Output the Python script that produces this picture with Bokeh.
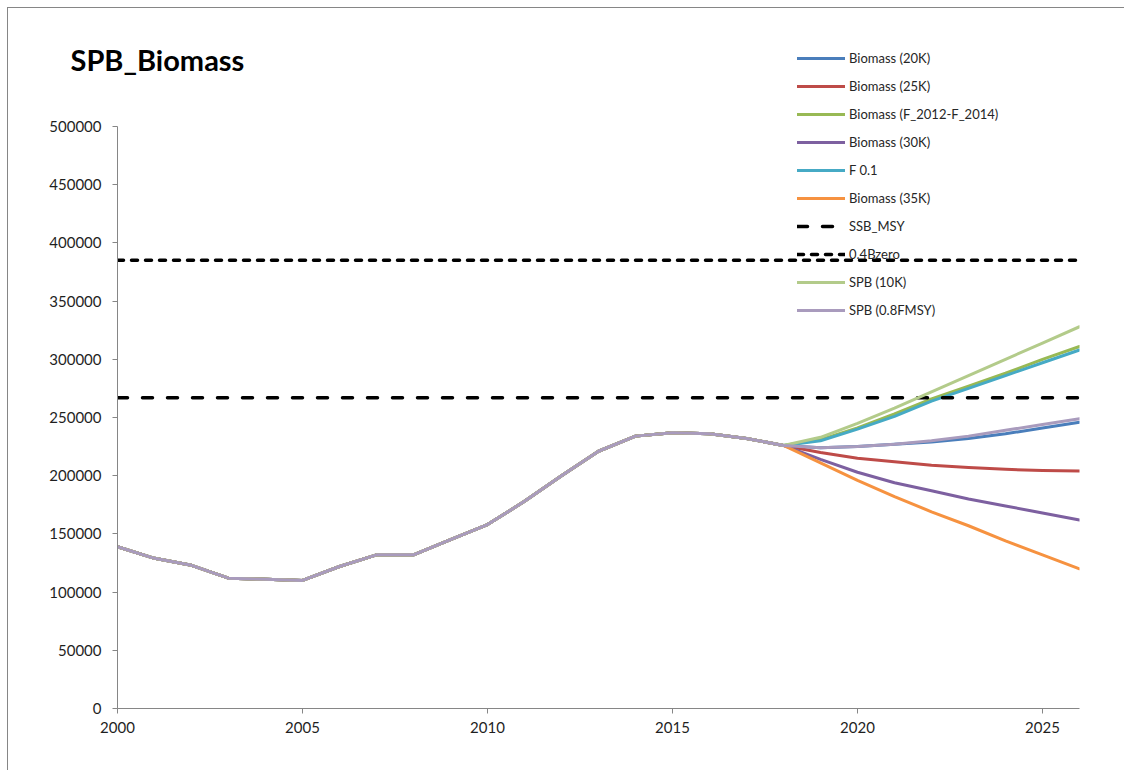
from bokeh.plotting import figure
from bokeh.models import Range1d, FixedTicker, BasicTickFormatter
from bokeh.embed import file_html
from bokeh.resources import INLINE

# ---- data ----
hist_years = list(range(2000, 2019))
history = [139000, 129000, 123000, 112000, 111000, 110000, 122000, 132000, 132000,
           145000, 158000, 178000, 200000, 221000, 234000, 237000, 236000, 232000, 226000]
proj_years = list(range(2019, 2027))

biomass_20k = [224000, 225000, 227000, 229000, 232000, 236000, 241000, 246000]
biomass_25k = [220000, 215000, 212000, 209000, 207000, 205500, 204500, 204000]
biomass_f2012_2014 = [231000, 241000, 253000, 266000, 277000, 288000, 300000, 311000]
biomass_30k = [214000, 203000, 194000, 187000, 180000, 174000, 168000, 162000]
f_01 = [230000, 240000, 251000, 264000, 275000, 286000, 297000, 308000]
biomass_35k = [211000, 196000, 182000, 169000, 157000, 144000, 132000, 120000]
spb_10k = [233000, 245000, 258000, 272000, 286000, 300000, 314000, 328000]
spb_08fmsy = [224000, 225000, 227000, 230000, 234000, 239000, 244000, 249000]

ssb_msy = 267000
b0_40 = 385000

series_names = ["Biomass (20K)", "Biomass (25K)", "Biomass (F_2012-F_2014)", "Biomass (30K)",
                "F 0.1", "Biomass (35K)", "SSB_MSY", "0.4Bzero", "SPB (10K)", "SPB (0.8FMSY)"]
series_colors = ["#4A7EBB", "#BE4B48", "#98B954", "#7D60A0", "#46AAC5", "#F69240",
                 "#000000", "#000000", "#B3CB8A", "#A99BBD"]
y_ticks = list(range(0, 500001, 50000))
x_ticks = [2000, 2005, 2010, 2015, 2020, 2025]
y_axis_max = 500000

all_years = hist_years + proj_years

# layout: frame extends above the 500000 tick so the legend (which sits higher) is not clipped
border_top, axis_h, headroom = 22, 582, 96
frame_h = axis_h + headroom
y_top = y_axis_max * frame_h / axis_h

p = figure(width=1117, height=763, output_backend="svg", toolbar_location=None,
           x_range=Range1d(2000, 2026), y_range=Range1d(0, y_top),
           min_border_left=109, min_border_right=46, min_border_top=border_top,
           min_border_bottom=763 - border_top - frame_h,
           title="SPB_Biomass")
p.styles = {"border-left": "1px solid #868686", "border-top": "1px solid #868686",
            "margin-left": "7px", "margin-top": "7px"}
p.outline_line_color = None
p.xgrid.visible = False
p.ygrid.visible = False
p.background_fill_color = "white"
p.border_fill_color = "white"

p.title.text_font = "Lato"
p.title.text_font_size = "29px"
p.title.text_font_style = "bold"
p.title.text_color = "#000000"
p.title.vertical_align = "bottom"
p.title.offset = -47
p.title.standoff = -93

proj = {
    "Biomass (20K)": biomass_20k,
    "Biomass (25K)": biomass_25k,
    "Biomass (F_2012-F_2014)": biomass_f2012_2014,
    "Biomass (30K)": biomass_30k,
    "F 0.1": f_01,
    "Biomass (35K)": biomass_35k,
    "SPB (10K)": spb_10k,
    "SPB (0.8FMSY)": spb_08fmsy,
}

for name, color in zip(series_names, series_colors):
    if name == "SSB_MSY":
        p.line(all_years, [ssb_msy] * len(all_years), line_color=color, line_width=3.5,
               line_dash="10 15", line_cap="round", legend_label=name)
    elif name == "0.4Bzero":
        p.line(all_years, [b0_40] * len(all_years), line_color=color, line_width=3.5,
               line_dash="6 8", line_cap="round", legend_label=name)
    else:
        p.line(all_years, history + proj[name], line_color=color, line_width=3,
               line_join="round", line_cap="round", legend_label=name)

for ax in (p.xaxis[0], p.yaxis[0]):
    ax.axis_line_color = "#868686"
    ax.major_tick_line_color = "#868686"
    ax.minor_tick_line_color = None
    ax.major_tick_in = 0
    ax.major_tick_out = 5
    ax.major_label_text_font = "Lato"
    ax.major_label_text_font_size = "15px"
    ax.major_label_text_color = "#1f1f1f"

p.yaxis[0].ticker = FixedTicker(ticks=y_ticks)
p.yaxis[0].formatter = BasicTickFormatter(use_scientific=False)
p.yaxis[0].bounds = (0, y_axis_max)
p.yaxis[0].major_label_standoff = 11
p.xaxis[0].ticker = FixedTicker(ticks=x_ticks)
p.xaxis[0].major_label_standoff = 8

lg = p.legend[0]
lg.location = (680, 388)
lg.padding = 0
lg.margin = 0
lg.spacing = 8
lg.glyph_height = 20
lg.label_height = 20
lg.glyph_width = 48
lg.label_standoff = 4
lg.border_line_color = None
lg.background_fill_alpha = 0
lg.label_text_font = "Lato"
lg.label_text_font_size = "13px"
lg.label_text_color = "#262626"

open("out.html", "w").write(file_html(p, INLINE))
